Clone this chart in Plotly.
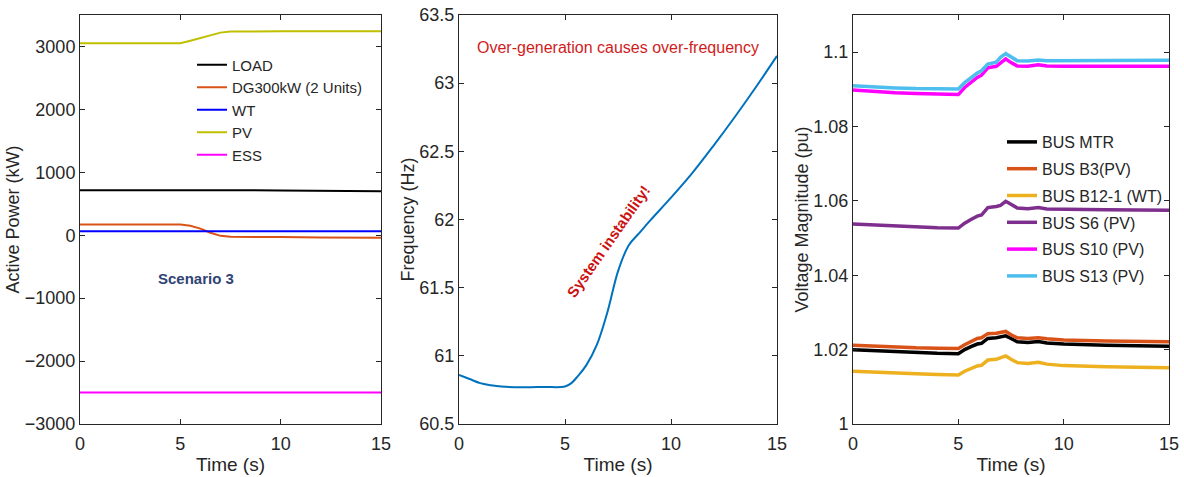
import plotly.graph_objects as go

# ---------------- data ----------------
t_p = [0, 5, 5.5, 6, 6.5, 7, 7.5, 8, 10, 12, 15]
p_load = [715, 715, 718, 720, 722, 722, 720, 715, 710, 705, 700]
p_dg = [170, 170, 150, 105, 40, -10, -25, -28, -30, -35, -42]
p_wt = [65, 65, 65, 65, 65, 65, 65, 65, 65, 65, 65]
p_pv = [3050, 3050, 3090, 3130, 3180, 3220, 3238, 3240, 3240, 3240, 3240]
p_ess = [-2500, -2500, -2500, -2500, -2500, -2500, -2500, -2500, -2500, -2500, -2500]

t_f = [0, 0.5, 1, 1.5, 2, 3, 4, 5, 5.3, 5.6, 6, 6.5, 7, 7.5, 8, 8.5, 9, 10, 11, 12, 13, 14, 15]
freq = [60.86, 60.83, 60.80, 60.785, 60.775, 60.77, 60.772, 60.775, 60.80, 60.85, 60.93, 61.08,
        61.32, 61.62, 61.81, 61.90, 61.99, 62.16, 62.34, 62.54, 62.75, 62.97, 63.20]

t_v = [0, 1, 2, 3, 4, 5, 5.3, 5.6, 5.9, 6.1, 6.4, 6.8, 7.0, 7.25, 7.5, 7.8, 8.3, 8.8, 9.2, 10, 12, 15]
v_mtr = [1.0200, 1.0197, 1.0194, 1.0192, 1.0190, 1.0189, 1.0200, 1.0208, 1.0215, 1.0217, 1.0230, 1.0232,
         1.0234, 1.0237, 1.0230, 1.0221, 1.0219, 1.0222, 1.0218, 1.0215, 1.0212, 1.0209]
v_b3 = [1.0212, 1.0209, 1.0207, 1.0205, 1.0204, 1.0203, 1.0213, 1.0222, 1.0230, 1.0232, 1.0243, 1.0244,
        1.0246, 1.0249, 1.0240, 1.0232, 1.0230, 1.0232, 1.0229, 1.0226, 1.0223, 1.0221]
v_b12 = [1.0142, 1.0139, 1.0137, 1.0135, 1.0133, 1.0132, 1.0142, 1.0150, 1.0156, 1.0158, 1.0172, 1.0174,
         1.0177, 1.0183, 1.0174, 1.0165, 1.0163, 1.0166, 1.0161, 1.0157, 1.0154, 1.0151]
v_s6 = [1.0538, 1.0535, 1.0532, 1.0530, 1.0528, 1.0527, 1.0540, 1.0550, 1.0559, 1.0562, 1.0582, 1.0585,
        1.0588, 1.0599, 1.0590, 1.0581, 1.0579, 1.0582, 1.0578, 1.0577, 1.0576, 1.0575]
v_s10 = [1.0898, 1.0894, 1.0891, 1.0889, 1.0887, 1.0886, 1.0905, 1.0920, 1.0932, 1.0938, 1.0958, 1.0962,
         1.0972, 1.0982, 1.0972, 1.0963, 1.0962, 1.0966, 1.0963, 1.0962, 1.0962, 1.0962]
v_s13 = [1.0910, 1.0906, 1.0904, 1.0902, 1.0901, 1.0901, 1.0918, 1.0932, 1.0944, 1.0950, 1.0968, 1.0973,
         1.0986, 1.0996, 1.0988, 1.0977, 1.0976, 1.0979, 1.0977, 1.0977, 1.0977, 1.0978]

x_ticks = [0, 5, 10, 15]

# ---------------- figure ----------------
FONT = "Liberation Sans, Arial, sans-serif"
TXT = "#262626"
W, H, OFF = 1184, 477, 0  # body margin removed by post_script below


def px(x):
    return (x - OFF) / W


def py(y):
    return 1 - (y - OFF) / H


fig = go.Figure()

p_series = [("LOAD", p_load, "#000000"), ("DG300kW (2 Units)", p_dg, "#d95319"),
            ("WT", p_wt, "#0000ff"), ("PV", p_pv, "#bfbf00"), ("ESS", p_ess, "#ff00ff")]
for name, y, c in p_series:
    fig.add_trace(go.Scatter(x=t_p, y=y, name=name, mode="lines", line=dict(color=c, width=2),
                             xaxis="x", yaxis="y", legend="legend"))

fig.add_trace(go.Scatter(x=t_f, y=freq, mode="lines", line=dict(color="#0072bd", width=2, shape="spline"),
                         xaxis="x2", yaxis="y2", showlegend=False))

v_series = [("BUS MTR", v_mtr, "#000000"), ("BUS B3(PV)", v_b3, "#d95319"),
            ("BUS B12-1 (WT)", v_b12, "#edb120"), ("BUS S6 (PV)", v_s6, "#7e2f8e"),
            ("BUS S10 (PV)", v_s10, "#ff00ff"), ("BUS S13 (PV)", v_s13, "#4dbeee")]
for i, (name, y, c) in enumerate(v_series):
    fig.add_trace(go.Scatter(x=t_v, y=y, name=name, mode="lines", line=dict(color=c, width=3.5),
                             xaxis="x3", yaxis="y3", legend="legend2", legendgroup="v%d" % i))

ydom = [py(424), py(15)]
ax_common = dict(showline=True, mirror="ticks", ticks="inside", ticklen=5, linecolor="#262626",
                 linewidth=1, tickcolor="#262626", showgrid=False, zeroline=False, automargin=False,
                 ticklabeloverflow="allow",
                 tickfont=dict(size=18, color=TXT, family=FONT))
xcommon = dict(ax_common, range=[0, 15], tickvals=x_ticks, ticklabelstandoff=3,
               title=dict(text="Time (s)", font=dict(size=19, color=TXT, family=FONT), standoff=5))
ytf = dict(size=18, color=TXT, family=FONT)

fig.update_layout(
    width=W, height=H, margin=dict(l=0, r=0, t=0, b=0, autoexpand=False),
    paper_bgcolor="white", plot_bgcolor="white",
    font=dict(family=FONT, color=TXT),
    xaxis=dict(xcommon, domain=[px(80), px(381)], anchor="y"),
    yaxis=dict(ax_common, domain=ydom, anchor="x", range=[-3000, 3500],
               tickvals=[-3000, -2000, -1000, 0, 1000, 2000, 3000],
               title=dict(text="Active Power (kW)", font=ytf, standoff=0)),
    xaxis2=dict(xcommon, domain=[px(459), px(777)], anchor="y2"),
    yaxis2=dict(ax_common, domain=ydom, anchor="x2", range=[60.5, 63.5],
                tickvals=[60.5, 61, 61.5, 62, 62.5, 63, 63.5],
                title=dict(text="Frequency (Hz)", font=ytf, standoff=0)),
    xaxis3=dict(xcommon, domain=[px(853), px(1169)], anchor="y3"),
    yaxis3=dict(ax_common, domain=ydom, anchor="x3", range=[1.0, 1.11],
                tickvals=[1.0, 1.02, 1.04, 1.06, 1.08, 1.1], ticktext=["1", "1.02", "1.04", "1.06", "1.08", "1.1"],
                title=dict(text="Voltage Magnitude (pu)", font=ytf, standoff=0)),
    legend=dict(x=px(192), y=py(110), xanchor="left", yanchor="middle", bgcolor="rgba(0,0,0,0)",
                font=dict(size=15, color=TXT, family=FONT), itemwidth=30),
    legend2=dict(x=px(1002), y=py(125), xanchor="left", yanchor="top", bgcolor="rgba(0,0,0,0)",
                 font=dict(size=16, color=TXT, family=FONT), itemwidth=30, tracegroupgap=3,
                 traceorder="grouped"),
    showlegend=True,
)

fig.add_annotation(x=5.78, y=-693, xref="x", yref="y", text="<b>Scenario 3</b>", showarrow=False,
                   font=dict(size=15, color="#2f4475", family=FONT))
fig.add_annotation(x=7.52, y=63.265, xref="x2", yref="y2", text="Over-generation causes over-frequency",
                   showarrow=False, font=dict(size=16, color="#d01c1c", family=FONT))
fig.add_annotation(x=7.03, y=61.84, xref="x2", yref="y2", text="<b>System instability!</b>", showarrow=False,
                   textangle=-55, font=dict(size=15, color="#cc1111", family=FONT))

fig.write_html("out.html", config={"displayModeBar": False},
               post_script="document.body.style.margin='0';")
